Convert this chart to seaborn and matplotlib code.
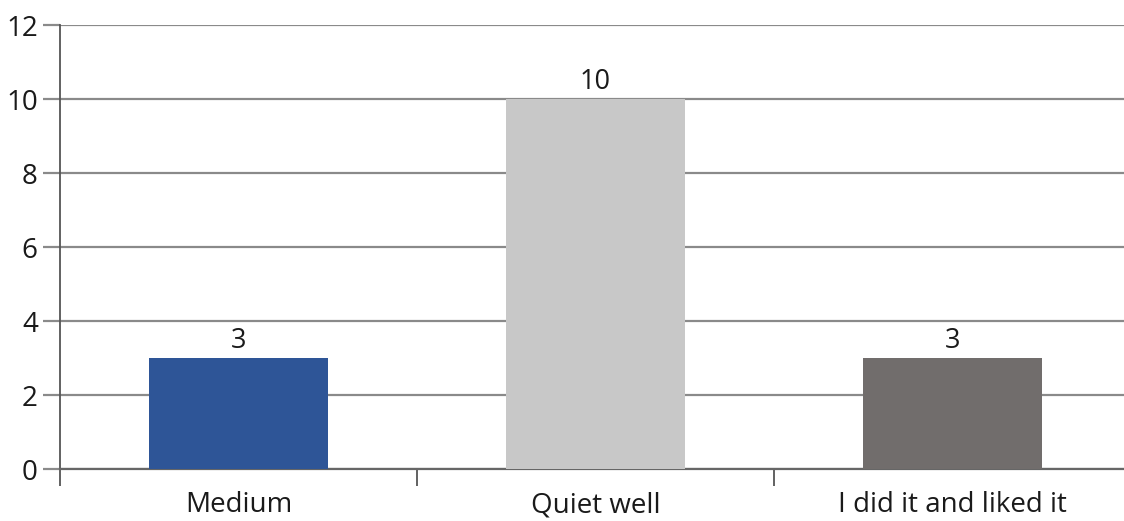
import matplotlib
matplotlib.use("Agg")
import matplotlib.pyplot as plt
import seaborn as sns
import pandas as pd

categories = ["Medium", "Quiet well", "I did it and liked it"]
counts = [3, 10, 3]
bar_colors = ["#2E5597", "#C8C8C8", "#716D6C"]
y_ticks = [0, 2, 4, 6, 8, 10, 12]

sns.set_style("white")
plt.rcParams["font.family"] = ["Open Sans", "DejaVu Sans"]

df = pd.DataFrame({"answer": categories, "count": counts})

fig = plt.figure(figsize=(11.24, 5.21), dpi=100)
ax = fig.add_axes([60 / 1124, 52 / 521, 1071 / 1124, 444 / 521])

sns.barplot(data=df, x="answer", y="count", hue="answer", palette=bar_colors,
            order=categories, hue_order=categories, width=0.5, legend=False,
            saturation=1, linewidth=0, ax=ax, zorder=3)

ax.set_ylim(0, 12)
ax.set_xlim(-0.5, 2.5)
ax.set_yticks(y_ticks)
ax.yaxis.grid(True, color="#8A8A8A", linewidth=1.6, zorder=0)
ax.set_axisbelow(True)

for c in ax.containers:
    ax.bar_label(c, fmt="%d", padding=2, fontsize=19.5, color="#1a1a1a")

# Category boundary ticks on the x axis
ax.set_xticks([-0.5, 0.5, 1.5, 2.5], minor=True)
ax.tick_params(axis="x", which="major", bottom=False, length=0, pad=16,
               labelsize=20, labelcolor="#1a1a1a")
ax.tick_params(axis="x", which="minor", bottom=True, length=12, width=1.3,
               color="#555555", direction="out")
ax.tick_params(axis="y", left=True, length=12, width=1.6, color="#8A8A8A",
               pad=4, labelsize=20, labelcolor="#1a1a1a")

for side in ["top", "right"]:
    ax.spines[side].set_visible(False)
ax.spines["left"].set_color("#555555")
ax.spines["left"].set_linewidth(1.3)
ax.spines["bottom"].set_color("#666666")
ax.spines["bottom"].set_linewidth(1.6)

ax.set_xlabel("")
ax.set_ylabel("")

fig.savefig("out.png", dpi=100)
